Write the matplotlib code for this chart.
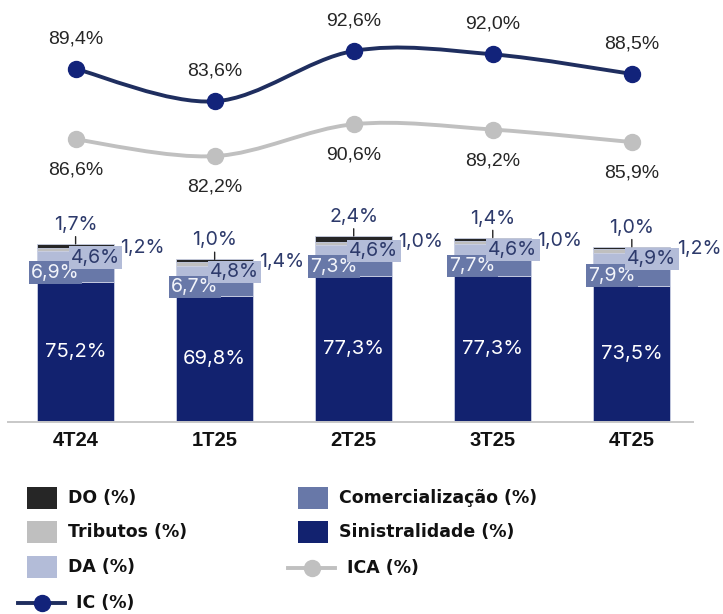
import numpy as np
import matplotlib
matplotlib.use("Agg")
import matplotlib.pyplot as plt
from matplotlib.path import Path
from matplotlib.patches import PathPatch, Rectangle
from matplotlib.lines import Line2D

# ---- data -------------------------------------------------------------
categories = ["4T24", "1T25", "2T25", "3T25", "4T25"]
sinistralidade = [75.2, 69.8, 77.3, 77.3, 73.5]
comercializacao = [6.9, 6.7, 7.3, 7.7, 7.9]
da = [4.6, 4.8, 4.6, 4.6, 4.9]
tributos = [1.2, 1.4, 1.0, 1.0, 1.2]
do = [1.7, 1.0, 2.4, 1.4, 1.0]
ic = [89.4, 83.6, 92.6, 92.0, 88.5]
ica = [86.6, 82.2, 90.6, 89.2, 85.9]

# ---- style ------------------------------------------------------------
C_SIN = "#12226F"
C_COM = "#6878A8"
C_DA = "#B3BCD8"
C_TRI = "#BFBFBF"
C_DO = "#262626"
C_IC_LINE = "#1F2E5F"
C_IC_MK = "#12237A"
C_ICA = "#C0C0C0"
C_LBL = "#2D3A6B"
C_TXT = "#262626"

LBL_FONT = ["Inter", "DejaVu Sans"]
LEG_FAMILY = ["DejaVu Sans"]
LINE_FONT = ["Liberation Sans", "DejaVu Sans"]
W, H = 723, 614


def pct(v):
    return f"{v:.1f}%".replace(".", ",")


def fx(px):
    return px / W


def fy(py):
    return 1 - py / H


fig = plt.figure(figsize=(W / 100, H / 100), dpi=100)
fig.patch.set_facecolor("white")

ax_left, ax_right, ax_bottom_px = 8.3, 693.0, 421.7
rect = [fx(ax_left), fy(ax_bottom_px), (ax_right - ax_left) / W, ax_bottom_px / H]
ax = fig.add_axes(rect)

x = np.arange(len(categories))
bar_w = 0.556
y_min = 22
ax.set_xlim(-0.484, 4.44)
ax.set_ylim(y_min, 182.3)

# stacked columns
stack = [
    (sinistralidade, C_SIN),
    (comercializacao, C_COM),
    (da, C_DA),
    (tributos, C_TRI),
    (do, C_DO),
]
bottom = np.zeros(len(x))
for vals, col in stack:
    v = np.array(vals)
    ax.bar(x, v, bottom=bottom, width=bar_w, color=col, edgecolor="#C9CFE3",
           linewidth=0.6, zorder=2)
    bottom = bottom + v
totals = bottom

for s in ["top", "left", "right"]:
    ax.spines[s].set_visible(False)
ax.spines["bottom"].set_color("#C8C8C8")
ax.spines["bottom"].set_linewidth(1.4)
ax.set_yticks([])
ax.set_xticks(x)
ax.set_xticklabels(categories, fontsize=14.5, fontweight="bold",
                   family=LINE_FONT, color="#111111")
ax.tick_params(axis="x", length=0, pad=7)
ax.set_facecolor("none")

LBL_KW = dict(textcoords="offset pixels", ha="center", va="center",
              fontsize=14, family=LBL_FONT)

# bar labels
for i in range(len(x)):
    s = sinistralidade[i]
    c = comercializacao[i]
    d = da[i]
    t = tributos[i]
    o = do[i]
    ax.text(x[i], (y_min + s) / 2, pct(s), ha="center", va="center",
            fontsize=14.5, color="white", family=LBL_FONT, zorder=6)
    ax.annotate(pct(c), xy=(x[i], s + c / 2), xytext=(-20, 0),
                color="#F2F4FA", zorder=6,
                bbox=dict(boxstyle="square,pad=0.12", fc=C_COM, ec="none"),
                **LBL_KW)
    ax.annotate(pct(d), xy=(x[i], s + c + d / 2), xytext=(20, 0),
                color=C_LBL, zorder=7,
                bbox=dict(boxstyle="square,pad=0.12", fc=C_DA, ec="none"),
                **LBL_KW)
    ax.annotate(pct(t), xy=(x[i], s + c + d + t / 2), xytext=(67, 2),
                color=C_LBL, zorder=4,
                arrowprops=dict(arrowstyle="-", color=C_DO, lw=1.0,
                                shrinkA=1, shrinkB=0),
                **LBL_KW)
    ax.annotate(pct(o), xy=(x[i], totals[i]), xytext=(0, 19),
                color=C_LBL, zorder=4,
                arrowprops=dict(arrowstyle="-", color=C_DO, lw=1.0,
                                shrinkA=0, shrinkB=0),
                **LBL_KW)


def smooth_path(xs, ys):
    pts = np.column_stack([xs, ys]).astype(float)
    n = len(pts)
    verts = [pts[0]]
    codes = [Path.MOVETO]
    for k in range(n - 1):
        p0 = pts[k - 1] if k > 0 else pts[k]
        p1 = pts[k]
        p2 = pts[k + 1]
        p3 = pts[k + 2] if k + 2 < n else pts[k + 1]
        verts += [p1 + (p2 - p0) / 6, p2 - (p3 - p1) / 6, p2]
        codes += [Path.CURVE4] * 3
    return Path(verts, codes)


# index lines on their own scales
ax_ic = ax.twinx()
ax_ica = ax.twinx()
ax_ic.set_ylim(26.4, 101.7)
ax_ica.set_ylim(12.3, 123.3)
for a in (ax_ic, ax_ica):
    a.set_axis_off()

ax_ica.add_patch(PathPatch(smooth_path(x, ica), fc="none", ec=C_ICA, lw=2.8,
                           capstyle="round"))
ax_ica.plot(x, ica, "o", ms=11.5, color=C_ICA, mec=C_ICA, zorder=3)
for i, v in enumerate(ica):
    ax_ica.annotate(pct(v), xy=(x[i], v), xytext=(0, -31),
                    textcoords="offset pixels", ha="center", va="center",
                    fontsize=14, color=C_TXT, family=LINE_FONT)

ax_ic.add_patch(PathPatch(smooth_path(x, ic), fc="none", ec=C_IC_LINE, lw=2.8,
                          capstyle="round"))
ax_ic.plot(x, ic, "o", ms=11.5, color=C_IC_MK, mec=C_IC_MK, zorder=3)
for i, v in enumerate(ic):
    ax_ic.annotate(pct(v), xy=(x[i], v), xytext=(0, 30),
                   textcoords="offset pixels", ha="center", va="center",
                   fontsize=14, color=C_TXT, family=LINE_FONT)

# legend
LEG_FONT = dict(fontsize=12.5, fontweight="bold", family=LEG_FAMILY,
                color="#111111", va="center", ha="left")
patch_items = [
    (27, 498, C_DO, "DO (%)"),
    (27, 532, C_TRI, "Tributos (%)"),
    (27, 567, C_DA, "DA (%)"),
    (298, 498, C_COM, "Comercialização (%)"),
    (298, 532, C_SIN, "Sinistralidade (%)"),
]
for px, py, col, label in patch_items:
    fig.add_artist(Rectangle((fx(px), fy(py + 11)), 30 / W, 22 / H,
                             transform=fig.transFigure, fc=col, ec="none"))
    fig.text(fx(px + 41), fy(py), label, **LEG_FONT)

line_items = [
    (18, 65, 603, C_IC_LINE, C_IC_MK, "IC (%)", 76),
    (288, 335, 568, C_ICA, C_ICA, "ICA (%)", 347),
]
for x0, x1, py, lc, mc, label, tx in line_items:
    fig.add_artist(Line2D([fx(x0), fx(x1)], [fy(py), fy(py)],
                          transform=fig.transFigure, color=lc, lw=2.8))
    fig.add_artist(Line2D([fx((x0 + x1) / 2)], [fy(py)], marker="o", ms=11.5,
                          color=mc, transform=fig.transFigure))
    fig.text(fx(tx), fy(py), label, **LEG_FONT)

fig.savefig("out.png", dpi=100, facecolor="white")
